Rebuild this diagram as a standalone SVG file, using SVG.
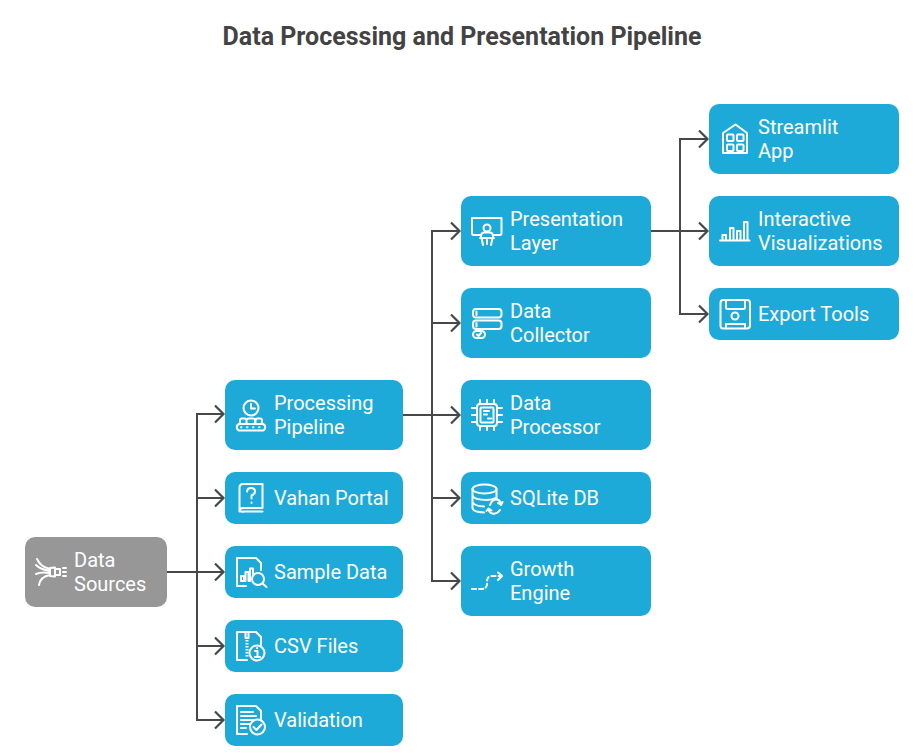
<svg xmlns="http://www.w3.org/2000/svg" width="924" height="753" viewBox="0 0 924 753">
<defs>
<marker id="arrow" markerUnits="userSpaceOnUse" markerWidth="14" markerHeight="20" refX="11" refY="10" orient="auto" overflow="visible">
<path d="M2 1.500 L10.500 10 L2 18.500" fill="none" stroke="#484848" stroke-width="2.200"/>
</marker>
</defs>
<style>
text{font-family:Roboto,"Liberation Sans",sans-serif}
.t{font-size:20px;fill:#fff;font-weight:400}
.title{font-size:25px;font-weight:700;fill:#434343}
.b{fill:#1eaad9}
.g{fill:#979797}
.i{fill:none;stroke:#fff;stroke-width:2;stroke-linejoin:round;stroke-linecap:round}
.c{fill:none;stroke:#484848;stroke-width:2}
</style>
<rect width="924" height="753" fill="#fff"/>
<text class="title" x="462" y="45" text-anchor="middle">Data Processing and Presentation Pipeline</text>
<g id="connectors">
<path class="c" d="M167 572H197V414H224" marker-end="url(#arrow)"/>
<path class="c" d="M197 498H224" marker-end="url(#arrow)"/>
<path class="c" d="M197 572H224" marker-end="url(#arrow)"/>
<path class="c" d="M197 572V720H224" marker-end="url(#arrow)"/>
<path class="c" d="M197 646H224" marker-end="url(#arrow)"/>
<path class="c" d="M403 415H432V231H460" marker-end="url(#arrow)"/>
<path class="c" d="M432 323H460" marker-end="url(#arrow)"/>
<path class="c" d="M432 415H460" marker-end="url(#arrow)"/>
<path class="c" d="M432 415V581H460" marker-end="url(#arrow)"/>
<path class="c" d="M432 498H460" marker-end="url(#arrow)"/>
<path class="c" d="M651 231H680V139H708" marker-end="url(#arrow)"/>
<path class="c" d="M680 231H708" marker-end="url(#arrow)"/>
<path class="c" d="M680 231V314H708" marker-end="url(#arrow)"/>
</g>
<g id="data-sources">
<rect class="g" x="25" y="537" width="142" height="70" rx="10"/>
<path class="i" d="M37 559C40 565 43 567 50 569M36 565C40 569 44 570 50 571M36 574C40 572 44 572 50 573M39 585C40 579 44 576 50 575"/>
<path class="i" d="M50 568L55 567.500V576.500L50 576ZM55 569H60V575H55ZM63 568H66M63 572H66M63 576H66"/>
<text class="t" x="74" y="567">Data</text><text class="t" x="74" y="591">Sources</text>
</g>
<g id="processing-pipeline">
<rect class="b" x="225" y="380" width="178" height="70" rx="10"/>
<circle class="i" cx="251" cy="408" r="7.500"/><path class="i" d="M251 404V408.500H255"/>
<path class="i" d="M239 424H263A3.500 3.500 0 0 1 263 430.500H239A3.500 3.500 0 0 1 239 424ZM240 424V420.500Q240 418.500 242 418.500H244.500Q246.500 418.500 246.500 420.500V424M246.500 424V420.500Q246.500 418.500 249 418.500H253Q255 418.500 255 420.500V424M255.500 424V420.500Q255.500 418.500 257.500 418.500H260Q262 418.500 262 420.500V424"/>
<path class="i" d="M241 427.300H241.500M247 427.300H247.500M253 427.300H253.500M259 427.300H259.500"/>
<text class="t" x="274" y="410">Processing</text><text class="t" x="274" y="434">Pipeline</text>
</g>
<g id="vahan-portal">
<rect class="b" x="225" y="472" width="178" height="52" rx="10"/>
<path class="i" d="M243 484H262.500V508H243Q239.500 508 239.500 511.500V487.500Q239.500 484 243 484ZM239.500 511.500H262.500M243 511.500V512M247 491.500Q247.500 488 251 488Q255 488 255 491.500Q255 494 251.500 495.500V498.500M251.500 502.500V503"/>
<text class="t" x="274" y="505">Vahan Portal</text>
</g>
<g id="sample-data">
<rect class="b" x="225" y="546" width="178" height="52" rx="10"/>
<path class="i" d="M246 586H237V558H256L261 563V570M241 576H244V581H241ZM245.500 581V572H248.500V581M250 581V568.500H253V574"/>
<circle class="i" cx="258" cy="579" r="6"/><path class="i" d="M262.500 583.500L266.500 587"/>
<text class="t" x="274" y="579">Sample Data</text>
</g>
<g id="csv-files">
<rect class="b" x="225" y="620" width="178" height="52" rx="10"/>
<path class="i" d="M247 660H237V632H256L261 637V645M245.500 632V638H248.500V632"/>
<path d="M247 640V657" fill="none" stroke="#fff" stroke-width="3" stroke-dasharray="1.500 1.500"/>
<circle class="i" cx="257" cy="653" r="7.500"/><path class="i" d="M255 651H257.500V657M255 657H260M257 648V648.300"/>
<text class="t" x="274" y="653">CSV Files</text>
</g>
<g id="validation">
<rect class="b" x="225" y="694" width="178" height="52" rx="10"/>
<path class="i" d="M247 734H237V706H256L261 711V719M241 712H253M241 716H256M241 720H254M241 724H250M241 728H246"/>
<circle class="i" cx="257.500" cy="727" r="7.500"/><path class="i" d="M253.500 727L256.500 730L261.500 724.500"/>
<text class="t" x="274" y="727">Validation</text>
</g>
<g id="presentation-layer">
<rect class="b" x="461" y="196" width="190" height="70" rx="10"/>
<path class="i" d="M481 235H473.500Q472 235 472 233V218H501.500V233Q501.500 235 500 235H493"/>
<circle class="i" cx="487" cy="228" r="3.500"/>
<path class="i" d="M481 238V236Q481 232.500 484.500 232.500H489.500Q493 232.500 493 236V238ZM480 238H494M481.500 238L483 245M492.500 238L491 245M487 240V244"/>
<text class="t" x="510" y="226">Presentation</text><text class="t" x="510" y="250">Layer</text>
</g>
<g id="data-collector">
<rect class="b" x="461" y="288" width="190" height="70" rx="10"/>
<rect class="i" x="473" y="309" width="28.500" height="8.500" rx="3"/>
<rect class="i" x="473" y="320.500" width="28.500" height="8.500" rx="3"/>
<rect class="i" x="473" y="331" width="12" height="7" rx="3.500"/>
<path class="i" d="M476.500 311.500V315M476.500 323V326.500M477 334.500L478.500 336L481 333"/>
<text class="t" x="510" y="318">Data</text><text class="t" x="510" y="342">Collector</text>
</g>
<g id="data-processor">
<rect class="b" x="461" y="380" width="190" height="70" rx="10"/>
<rect class="i" x="477" y="404" width="20" height="22" rx="3"/>
<rect class="i" x="480.500" y="407.500" width="13" height="15" rx="1"/>
<path class="i" d="M484 411H489M484 414.500H487M488 418.500H491M480 400V404M487 400V404M494 400V404M480 426V430M487 426V430M494 426V430M472 408H477M472 415H477M472 422H477M497 408H502M497 415H502M497 422H502"/>
<text class="t" x="510" y="410">Data</text><text class="t" x="510" y="434">Processor</text>
</g>
<g id="sqlite-db">
<rect class="b" x="461" y="472" width="190" height="52" rx="10"/>
<ellipse class="i" cx="484.500" cy="489" rx="12" ry="4.500"/>
<path class="i" d="M472.500 489V508Q472.500 512 484 512.500M472.500 495.500Q474 500 487 500Q492 500 496.500 497.500M472.500 502Q474 506 484 506.500M496.500 489V499"/>
<path class="i" d="M490 505Q492 499 497 499.500Q500 500 501 504M498 503L501 505L502.500 502M500 510Q497 514.500 492.500 513.500Q489.500 513 488.500 509.500M491.500 510.500L488.500 508.500L486.500 511"/>
<text class="t" x="510" y="505">SQLite DB</text>
</g>
<g id="growth-engine">
<rect class="b" x="461" y="546" width="190" height="70" rx="10"/>
<path class="i" stroke-dasharray="4 3" d="M472 589H481Q487 589 487 584V582Q487 576 492 576H501"/>
<path class="i" d="M498 572.500L502 576L498 580"/>
<text class="t" x="510" y="576">Growth</text><text class="t" x="510" y="600">Engine</text>
</g>
<g id="streamlit-app">
<rect class="b" x="709" y="104" width="190" height="70" rx="10"/>
<path class="i" d="M723 153V133L735.500 124.500L747 133V153Z"/>
<rect class="i" x="727" y="134.500" width="6.500" height="6.500" rx="1"/><rect class="i" x="737" y="134.500" width="6.500" height="6.500" rx="1"/>
<rect class="i" x="727" y="144.500" width="6.500" height="6.500" rx="1"/><rect class="i" x="737" y="144.500" width="6.500" height="6.500" rx="1"/>
<text class="t" x="758" y="134">Streamlit</text><text class="t" x="758" y="158">App</text>
</g>
<g id="interactive-visualizations">
<rect class="b" x="709" y="196" width="190" height="70" rx="10"/>
<path class="i" d="M720 240.500H749.500M722.500 240V235H726V240M730 240V228H733.500V240M737 240V231H740.500V240M744 240V222H747.500V240"/>
<text class="t" x="758" y="226">Interactive</text><text class="t" x="758" y="250">Visualizations</text>
</g>
<g id="export-tools">
<rect class="b" x="709" y="288" width="190" height="52" rx="10"/>
<path class="i" d="M723 300H747Q750 300 750 303V325.500Q750 328.500 747 328.500H723Q720.500 328.500 720.500 325.500V303Q720.500 300 723 300ZM726 300V307.500Q726 309 728 309H743Q745 309 745 307.500V300M726 328.500V324H745V328.500"/>
<circle class="i" cx="735" cy="316" r="3.500"/>
<text class="t" x="758" y="321">Export Tools</text>
</g>
</svg>
